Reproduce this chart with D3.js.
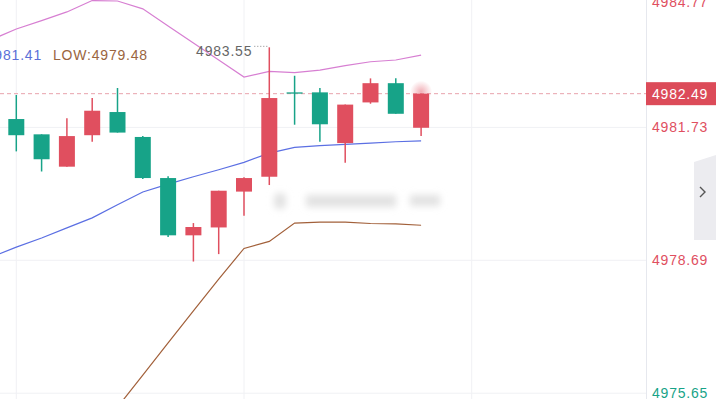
<!DOCTYPE html>
<html>
<head>
<meta charset="utf-8">
<script src="https://cdn.jsdelivr.net/npm/d3@7"></script>
<style>
  html, body { margin: 0; padding: 0; background: #fff; }
  svg { display: block; font-family: "Liberation Sans", Arial, sans-serif; }
</style>
</head>
<body>
<div class="graphics"></div>
<script>
// candles, index 0..16 (oldest -> newest)
var open  = [4981.91, 4981.56, 4980.82, 4981.54, 4982.07, 4981.50, 4980.56, 4979.25, 4979.43, 4980.25, 4980.59, 4982.52, 4982.52, 4981.36, 4982.29, 4982.73, 4981.71];
var close = [4981.54, 4980.99, 4981.52, 4982.10, 4981.60, 4980.56, 4979.25, 4979.44, 4980.27, 4980.56, 4982.39, 4982.51, 4981.79, 4982.24, 4982.73, 4982.03, 4982.49];
var high  = [4982.46, 4981.56, 4981.93, 4982.39, 4982.62, 4981.52, 4980.60, 4979.53, 4980.27, 4980.58, 4983.55, 4982.90, 4982.62, 4982.24, 4982.84, 4982.84, 4982.49];
var low   = [4981.17, 4980.71, 4980.82, 4981.39, 4981.60, 4980.54, 4979.21, 4978.65, 4978.82, 4979.70, 4980.40, 4981.78, 4981.39, 4980.91, 4982.26, 4982.03, 4981.52];

// band lines, index -1..16 (first value belongs to the candle just off the left edge)
var upper = [4983.72, 4983.97, 4984.16, 4984.36, 4984.62, 4984.61, 4984.43, 4984.04, 4983.65, 4983.26, 4982.87, 4983.00, 4982.97, 4983.03, 4983.13, 4983.22, 4983.26, 4983.37];
var mid   = [4978.75, 4978.98, 4979.19, 4979.42, 4979.65, 4979.95, 4980.24, 4980.42, 4980.59, 4980.75, 4980.92, 4981.13, 4981.26, 4981.30, 4981.33, 4981.36, 4981.39, 4981.41];
var lower = [null, null, null, null, null, 4975.32, 4976.05, 4976.79, 4977.52, 4978.25, 4978.95, 4979.11, 4979.53, 4979.55, 4979.55, 4979.52, 4979.51, 4979.48];

// price axis
var priceTicks = [4984.77, 4981.73, 4978.69, 4975.65];
var lastPrice = 4982.49;
var refPrice = 4977.0;   // labels below this are green
var gridCandles = [0, 9, 18];

var W = 716, H = 399, plotW = 646;
var RED = "#e04f5f", GREEN = "#17a388";
var LS = 0.8; // letter spacing, the original font is a bit wider

var svg = d3.select(".graphics").append("svg")
    .attr("width", W).attr("height", H);

var defs = svg.append("defs");
defs.append("clipPath").attr("id", "plot")
  .append("rect").attr("x", 0).attr("y", 0).attr("width", plotW).attr("height", H);
defs.append("filter").attr("id", "blur")
    .attr("x", "-20%").attr("y", "-50%").attr("width", "140%").attr("height", "200%")
  .append("feGaussianBlur").attr("stdDeviation", 3.5);
var glow = defs.append("radialGradient").attr("id", "glow");
glow.append("stop").attr("offset", "0%").attr("stop-color", RED).attr("stop-opacity", 0.45);
glow.append("stop").attr("offset", "100%").attr("stop-color", RED).attr("stop-opacity", 0);

var x = d3.scaleLinear().domain([0, 16]).range([16.3, 421.1]);
var y = d3.scaleLinear().domain([4975.65, 4984.77]).range([392.7, -6.0]);

// grid
svg.append("g")
    .attr("transform", "translate(" + plotW + ",0)")
    .call(d3.axisLeft(y).tickValues(priceTicks).tickSize(plotW).tickFormat(""))
    .call(function(g) { g.select(".domain").remove(); })
    .selectAll("line").attr("stroke", "#f0f1f4");

svg.append("g").selectAll("line")
  .data(gridCandles)
  .enter()
  .append("line")
    .attr("x1", function(d) { return x(d); })
    .attr("x2", function(d) { return x(d); })
    .attr("y1", 0).attr("y2", H)
    .attr("stroke", "#f0f1f4");

var plot = svg.append("g").attr("clip-path", "url(#plot)");

// blurred watermark
var wm = plot.append("g").attr("filter", "url(#blur)").attr("fill", "#e2e2e2");
wm.append("rect").attr("x", 274).attr("y", 193).attr("width", 12).attr("height", 16).attr("rx", 5);
wm.append("rect").attr("x", 306).attr("y", 195).attr("width", 90).attr("height", 12);
wm.append("rect").attr("x", 410).attr("y", 195).attr("width", 30).attr("height", 11);

// current price dashed line
plot.append("line")
    .attr("x1", 0).attr("x2", plotW)
    .attr("y1", y(lastPrice)).attr("y2", y(lastPrice))
    .attr("stroke", "#e8a3ac")
    .attr("stroke-dasharray", "4,3");

// bands
function bandLine(data, color) {
  var line = d3.line()
      .defined(function(d) { return d != null; })
      .x(function(d, i) { return x(i - 1); })
      .y(function(d) { return y(d); });
  plot.append("path")
      .datum(data)
      .attr("d", line)
      .attr("fill", "none")
      .attr("stroke", color)
      .attr("stroke-width", 1.2);
}
bandLine(upper, "#d77fd2");
bandLine(mid, "#5b6fe3");
bandLine(lower, "#a2603a");

// candles
var idx = d3.range(open.length);
var bodyW = 16;
function col(i) { return close[i] >= open[i] ? RED : GREEN; }

plot.selectAll("mywick")
  .data(idx)
  .enter()
  .append("line")
    .attr("x1", function(i) { return x(i); })
    .attr("x2", function(i) { return x(i); })
    .attr("y1", function(i) { return y(high[i]); })
    .attr("y2", function(i) { return y(low[i]); })
    .attr("stroke", col)
    .attr("stroke-width", 1.5);

plot.selectAll("mybody")
  .data(idx)
  .enter()
  .append("rect")
    .attr("x", function(i) { return x(i) - bodyW / 2; })
    .attr("y", function(i) { return y(Math.max(open[i], close[i])); })
    .attr("width", bodyW)
    .attr("height", function(i) { return Math.max(1.3, Math.abs(y(open[i]) - y(close[i]))); })
    .attr("fill", col);

// glow on the live candle
var last = open.length - 1;
plot.append("circle")
    .attr("cx", x(last)).attr("cy", y(lastPrice) - 2)
    .attr("r", 11)
    .attr("fill", "url(#glow)");

// high marker
var hi = d3.maxIndex(high);
plot.append("line")
    .attr("x1", x(hi) - 15).attr("x2", x(hi))
    .attr("y1", y(high[hi]) - 1).attr("y2", y(high[hi]) - 1)
    .attr("stroke", "#888")
    .attr("stroke-dasharray", "1,2");
plot.append("text")
    .attr("x", x(hi) - 17).attr("y", y(high[hi]) + 8.5)
    .attr("text-anchor", "end")
    .attr("font-size", 14)
    .attr("letter-spacing", LS)
    .attr("fill", "#666")
    .text(high[hi].toFixed(2));

// legend
svg.append("text")
    .attr("x", 42).attr("y", 60)
    .attr("text-anchor", "end")
    .attr("font-size", 14)
    .attr("letter-spacing", LS)
    .attr("fill", "#5b6fd8")
    .text(mid[mid.length - 1].toFixed(2));
svg.append("text")
    .attr("x", 53).attr("y", 60)
    .attr("font-size", 14)
    .attr("letter-spacing", LS)
    .attr("fill", "#9a6540")
    .text("LOW:" + lower[lower.length - 1].toFixed(2));

// right price axis
svg.append("line")
    .attr("x1", plotW + 0.5).attr("x2", plotW + 0.5)
    .attr("y1", 0).attr("y2", H)
    .attr("stroke", "#e6e8ee");

var axis = svg.append("g")
    .attr("transform", "translate(652,1)")
    .call(d3.axisRight(y).tickValues(priceTicks).tickSize(0).tickPadding(0)
          .tickFormat(function(d) { return d.toFixed(2); }));
axis.select(".domain").remove();
// keep the top label inside the window
axis.selectAll(".tick")
    .attr("transform", function(d) { return "translate(0," + Math.max(2, y(d)) + ")"; });
axis.selectAll("text")
    .attr("font-size", 14)
    .attr("letter-spacing", LS)
    .attr("font-family", "Liberation Sans, Arial, sans-serif")
    .attr("fill", function(d) { return d < refPrice ? GREEN : RED; });

// last price tag
svg.append("rect")
    .attr("x", plotW).attr("y", y(lastPrice) - 11.5)
    .attr("width", W - plotW).attr("height", 23)
    .attr("fill", "#dc4b59");
svg.append("text")
    .attr("x", 652).attr("y", y(lastPrice))
    .attr("dy", "0.35em")
    .attr("font-size", 14)
    .attr("letter-spacing", LS)
    .attr("fill", "#fff")
    .text(lastPrice.toFixed(2));

// side tab
svg.append("path")
    .attr("d", "M716,155 L694,162 L694,240 L716,240 Z")
    .attr("fill", "#ececf0");
svg.append("path")
    .attr("d", "M700,187 L705,192 L700,197")
    .attr("fill", "none")
    .attr("stroke", "#555")
    .attr("stroke-width", 1.4);
</script>
</body>
</html>
